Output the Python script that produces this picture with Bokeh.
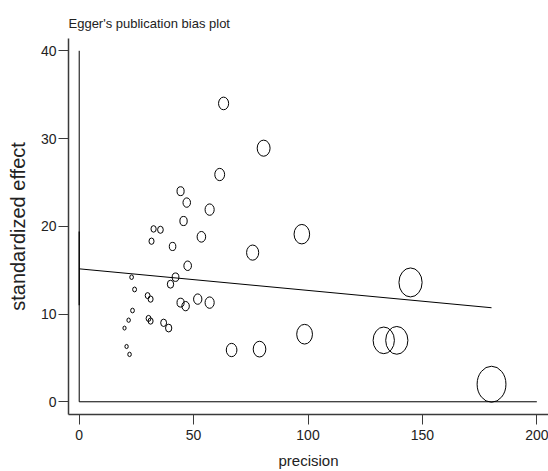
from bokeh.plotting import figure
from bokeh.models import Range1d, FixedTicker, ColumnDataSource
from bokeh.embed import file_html
from bokeh.resources import INLINE

# ---- data ----
precision = [63.1, 80.6, 61.4, 44.3, 47.0, 57.0, 45.6, 32.5, 35.5, 97.3,
             53.4, 31.6, 40.8, 75.8, 47.4, 42.1, 39.9, 22.9, 24.2, 29.9,
             31.2, 44.3, 46.5, 51.8, 57.0, 23.3, 21.6, 30.3, 31.2, 36.9,
             39.1, 19.8, 20.7, 22.0, 66.6, 78.8, 98.5, 133.1, 138.8, 144.8,
             180.2]
std_effect = [34.0, 28.9, 25.9, 24.0, 22.7, 21.9, 20.6, 19.7, 19.6, 19.1,
              18.8, 18.3, 17.7, 17.0, 15.5, 14.2, 13.4, 14.2, 12.8, 12.1,
              11.7, 11.3, 10.9, 11.7, 11.3, 10.4, 9.3, 9.5, 9.2, 9.0,
              8.4, 8.4, 6.3, 5.4, 5.9, 6.0, 7.7, 7.0, 7.0, 13.6,
              2.0]
intercept = 15.15
slope = -0.0246
intercept_ci = [11.0, 19.4]
x_ticks = [0, 50, 100, 150, 200]
y_ticks = [0, 10, 20, 30, 40]
title_text = "Egger's publication bias plot"
x_label = "precision"
y_label = "standardized effect"

FONT = "Liberation Sans"
AX = "#3a3a3a"

src = ColumnDataSource(dict(
    x=precision, y=std_effect,
    w=[0.16 * v for v in precision],
    h=[0.20 * v for v in precision],
))

p = figure(width=548, height=471, output_backend="svg", toolbar_location=None,
           x_range=Range1d(-4.68, 205.1), y_range=Range1d(-1.45, 41.4),
           min_border_left=68, min_border_right=0, min_border_top=38,
           min_border_bottom=56, title=title_text)
p.outline_line_color = None
p.xgrid.visible = False
p.ygrid.visible = False
p.background_fill_color = "white"
p.border_fill_color = "white"

p.title.text_font = FONT
p.title.text_font_size = "13px"
p.title.text_font_style = "normal"
p.title.text_color = "#222222"
p.title.align = "left"
p.title.standoff = 16

for ax in (p.xaxis[0], p.yaxis[0]):
    ax.axis_line_color = AX
    ax.axis_line_width = 1.5
    ax.major_tick_line_color = AX
    ax.major_tick_line_width = 1
    ax.major_tick_out = 10
    ax.major_tick_in = 0
    ax.minor_tick_in = 0
    ax.minor_tick_out = 0
    ax.major_label_text_font = FONT
    ax.major_label_text_font_size = "14px"
    ax.major_label_text_color = "#222222"
    ax.axis_label_text_font = FONT
    ax.axis_label_text_font_style = "normal"
    ax.axis_label_text_color = "#222222"

p.xaxis.ticker = FixedTicker(ticks=x_ticks)
p.yaxis.ticker = FixedTicker(ticks=y_ticks)
p.xaxis.axis_label = x_label
p.yaxis.axis_label = y_label
p.xaxis.axis_label_text_font_size = "15px"
p.yaxis.axis_label_text_font_size = "20px"
p.xaxis.major_label_standoff = 5
p.yaxis.major_label_standoff = 2
p.xaxis.axis_label_standoff = 9
p.yaxis.axis_label_standoff = 9

# reference lines at x=0 and y=0
p.segment(x0=[0], y0=[y_ticks[0]], x1=[0], y1=[y_ticks[-1]],
          line_color="black", line_width=1)
p.segment(x0=[x_ticks[0]], y0=[0], x1=[x_ticks[-1]], y1=[0],
          line_color="black", line_width=1)
# confidence interval of intercept
p.segment(x0=[0], y0=[intercept_ci[0]], x1=[0], y1=[intercept_ci[1]],
          line_color="black", line_width=1.2)

# regression line
xmax = max(precision)
p.line([0, xmax], [intercept, intercept + slope * xmax],
       line_color="black", line_width=1)

p.ellipse(x="x", y="y", width="w", height="h",
          width_units="screen", height_units="screen",
          fill_color=None, line_color="black", line_width=1, source=src)

open("out.html", "w").write(file_html(p, INLINE))
